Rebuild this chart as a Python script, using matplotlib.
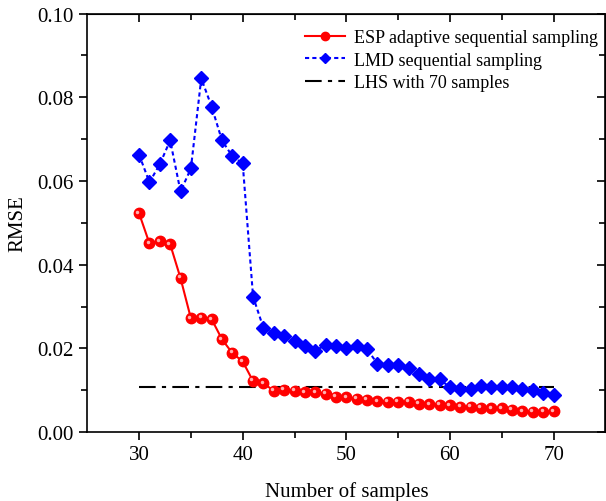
import numpy as np
import matplotlib
matplotlib.use('Agg')
import matplotlib.pyplot as plt
import matplotlib.transforms as mtransforms

plt.rcParams['font.family'] = ['Liberation Serif', 'DejaVu Serif']
plt.rcParams['mathtext.fontset'] = 'stix'

samples = np.arange(30, 71)

esp_rmse = [0.0523, 0.0451, 0.0456, 0.0449, 0.0368, 0.0272, 0.0274, 0.0270, 0.0222, 0.0189,
            0.0169, 0.0122, 0.0117, 0.0099, 0.0101, 0.0099, 0.0095, 0.0095, 0.0092, 0.0085,
            0.0083, 0.0079, 0.0077, 0.0074, 0.0072, 0.0072, 0.0072, 0.0068, 0.0067, 0.0065,
            0.0064, 0.0061, 0.0060, 0.0058, 0.0057, 0.0057, 0.0053, 0.0050, 0.0049, 0.0048,
            0.0050]

lmd_rmse = [0.0663, 0.0597, 0.0640, 0.0697, 0.0575, 0.0630, 0.0845, 0.0778, 0.0697, 0.0659,
            0.0642, 0.0324, 0.0249, 0.0238, 0.0231, 0.0219, 0.0205, 0.0195, 0.0208, 0.0207,
            0.0201, 0.0207, 0.0198, 0.0164, 0.0160, 0.0160, 0.0154, 0.0139, 0.0127, 0.0127,
            0.0107, 0.0103, 0.0104, 0.0110, 0.0109, 0.0107, 0.0107, 0.0103, 0.0101, 0.0093,
            0.0090]

lhs_x = [30, 70]
lhs_rmse = [0.0109, 0.0109]

fig = plt.figure(figsize=(6.06, 5.02), dpi=100)
ax = fig.add_axes([0.144, 0.137, 0.855, 0.834])

# red line with shaded balls
ax.plot(samples, esp_rmse, color='red', lw=1.5, marker='o', ms=7.5,
        mfc='red', mec='red', label='ESP adaptive sequential sampling', zorder=3)
hl = mtransforms.offset_copy(ax.transData, fig=fig, x=-1.2, y=1.2, units='points')
ax.plot(samples, esp_rmse, ls='none', marker='o', ms=2.5, mfc='#ffb0b0', mec='none',
        transform=hl, zorder=4)

ax.plot(samples, lmd_rmse, color='blue', lw=1.5, ls=(0, (2, 1.5)), marker='D', ms=7,
        mfc='blue', mec='blue', label='LMD sequential sampling', zorder=3)

ax.plot(lhs_x, lhs_rmse, color='black', lw=1.5, ls=(0, (8, 3, 2, 3)),
        label='LHS with 70 samples', zorder=2)

ax.set_xlim(25, 75)
ax.set_ylim(0, 0.10)
ax.set_xticks([30, 40, 50, 60, 70])
ax.set_xticks([35, 45, 55, 65], minor=True)
ax.set_yticks(np.arange(0, 0.101, 0.02))
ax.set_yticks(np.arange(0.01, 0.1, 0.02), minor=True)
ax.yaxis.set_major_formatter(plt.FormatStrFormatter('%.2f'))

ax.tick_params(which='both', direction='out', labelsize=15, width=1.2)
ax.tick_params(which='major', length=6)
ax.tick_params(which='minor', length=4)
for s in ax.spines.values():
    s.set_linewidth(1.2)

# mirrored ticks on top and right, pointing inward
top = ax.secondary_xaxis('top')
top.set_xticks([30, 40, 50, 60, 70])
top.set_xticks([35, 45, 55, 65], minor=True)
top.tick_params(which='both', direction='in', labeltop=False, width=1.2)
top.tick_params(which='major', length=6)
top.tick_params(which='minor', length=4)
right = ax.secondary_yaxis('right')
right.set_yticks(np.arange(0, 0.101, 0.02))
right.set_yticks(np.arange(0.01, 0.1, 0.02), minor=True)
right.tick_params(which='both', direction='in', labelright=False, width=1.2)
right.tick_params(which='major', length=6)
right.tick_params(which='minor', length=4)

ax.set_xlabel('Number of samples', fontsize=15, labelpad=12)
ax.set_ylabel('RMSE', fontsize=15, labelpad=7)

ax.legend(loc='upper right', bbox_to_anchor=(1.0, 0.98), frameon=False, fontsize=13,
          handlelength=2.2, borderaxespad=0, labelspacing=0.3, handletextpad=0.5,
          markerscale=0.8)

fig.savefig('out.png', dpi=100)
